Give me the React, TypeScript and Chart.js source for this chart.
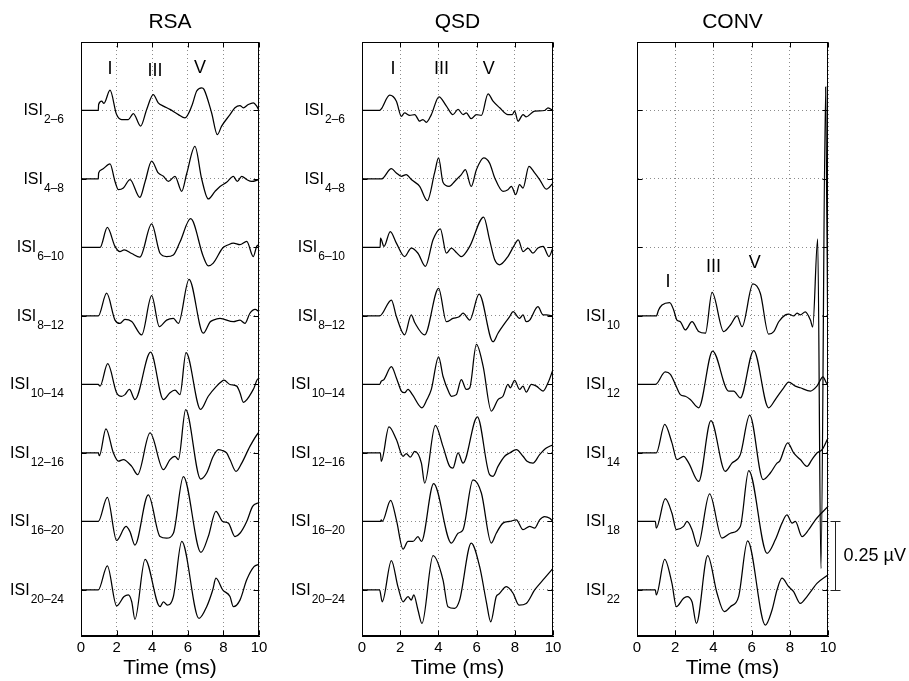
import React, { useEffect, useRef } from "react";
import { Chart, registerables } from "chart.js";
Chart.register(...registerables);
Chart.defaults.font.family = "'Liberation Sans', Arial, Helvetica, sans-serif";

// ---------- axes ----------
const timeTicks = [0, 2, 4, 6, 8, 10];
const baselines = [0, 0.25, 0.5, 0.75, 1.0, 1.25, 1.5, 1.75];
const yMin = -0.168;
const yMax = 2.0;

// ---------- labels ----------
const panelTitles = ["RSA", "QSD", "CONV"];
const rsaSubs = ["2–6", "4–8", "6–10", "8–12", "10–14", "12–16", "16–20", "20–24"];
const qsdSubs = ["2–6", "4–8", "6–10", "8–12", "10–14", "12–16", "16–20", "20–24"];
const convSubs = ["10", "12", "14", "18", "22"];
const rsaOffsets = [1.75, 1.5, 1.25, 1.0, 0.75, 0.5, 0.25, 0];
const qsdOffsets = [1.75, 1.5, 1.25, 1.0, 0.75, 0.5, 0.25, 0];
const convOffsets = [1.0, 0.75, 0.5, 0.25, 0];
const waveNames = ["I", "III", "V"];
const rsaWaveT = [1.63, 4.16, 6.69];
const rsaWaveY = [1.90, 1.895, 1.906];
const qsdWaveT = [1.62, 4.16, 6.63];
const qsdWaveY = [1.90, 1.90, 1.90];
const convWaveT = [1.62, 4.01, 6.16];
const convWaveY = [1.125, 1.18, 1.195];
const scaleBarLow = 0;
const scaleBarHigh = 0.25;
const scaleBarText = "0.25 µV";

// ---------- RSA traces: [time ms, amplitude µV] ----------
const rsa_2_6 = [[0,0],[0.97,0],[0.99,0.022],[1.16,0.034],[1.29,0.026],[1.63,0.074],[2.0,-0.015],[2.28,-0.033],[2.66,-0.033],[2.94,-0.011],[3.35,-0.057],[3.69,0.004],[4.06,0.058],[4.34,0.028],[4.63,0.016],[5.0,0.004],[5.47,-0.015],[5.84,-0.027],[6.22,0.016],[6.5,0.071],[6.78,0.083],[6.91,0.077],[7.34,-0.009],[7.66,-0.088],[7.9,-0.057],[8.37,-0.015],[8.65,0.01],[8.93,0.018],[9.12,0.01],[9.4,0.022],[9.68,0.028],[9.87,0.016],[10,0]];
const rsa_4_8 = [[0,0],[0.97,0],[0.99,0.022],[1.16,0.034],[1.63,0.055],[1.91,-0.009],[2.1,-0.039],[2.38,-0.033],[2.75,-0.002],[3.31,-0.067],[3.6,-0.01],[3.97,0.065],[4.34,0.022],[4.63,0.01],[4.91,-0.009],[5.28,0.01],[5.66,-0.045],[5.94,0.02],[6.4,0.119],[6.78,0.0],[7.15,-0.073],[7.53,-0.045],[7.81,-0.027],[8.18,-0.012],[8.56,0.01],[8.78,-0.009],[9.03,0.01],[9.31,-0.002],[9.59,-0.009],[10,-0.002]];
const rsa_6_10 = [[0,0],[1.07,0],[1.48,0.073],[1.91,0.004],[2.19,-0.015],[2.42,-0.009],[2.85,-0.022],[3.31,-0.035],[3.97,0.086],[4.44,-0.021],[4.81,-0.033],[5.19,-0.027],[5.56,0.02],[6.16,0.105],[6.87,-0.033],[7.15,-0.067],[7.43,-0.057],[7.96,-0.002],[8.28,0.01],[8.56,0.016],[8.93,0.01],[9.31,0.022],[9.68,-0.033],[9.87,0.004],[10,0.01]];
const rsa_8_12 = [[0,0],[0.97,0],[1.44,0.083],[1.91,-0.015],[2.19,-0.027],[2.47,-0.012],[2.85,-0.02],[3.41,-0.069],[3.97,0.074],[4.4,-0.039],[4.81,-0.015],[5.19,-0.009],[5.47,-0.027],[6.07,0.134],[6.87,-0.063],[7.25,-0.022],[7.43,-0.015],[7.81,-0.009],[8.56,-0.021],[8.93,-0.015],[9.21,-0.027],[9.49,0.01],[9.78,0.024],[10,0.016]];
const rsa_10_14 = [[0,0],[0.97,0],[1.07,-0.006],[1.5,0.076],[2.0,-0.03],[2.28,-0.043],[2.47,-0.037],[2.72,-0.018],[3.03,-0.055],[3.91,0.118],[4.63,-0.055],[5.0,-0.03],[5.28,-0.021],[5.56,-0.037],[5.9,0.116],[6.72,-0.091],[7.15,-0.043],[7.62,-0.006],[7.81,0.006],[8.03,0.016],[8.37,0.0],[8.75,-0.006],[8.93,-0.03],[9.12,-0.065],[9.68,-0.018],[9.96,0.021],[10,0.012]];
const rsa_12_16 = [[0,0],[0.97,0],[1.03,-0.01],[1.4,0.088],[1.82,0.0],[2.1,-0.03],[2.38,-0.024],[2.85,-0.049],[3.18,-0.079],[3.88,0.073],[4.63,-0.061],[5.0,-0.024],[5.28,-0.012],[5.47,-0.024],[5.88,0.158],[6.72,-0.095],[7.06,-0.073],[7.43,-0.012],[7.72,0.012],[7.9,0.01],[8.18,0.0],[8.37,-0.024],[8.71,-0.067],[9.03,-0.037],[9.49,0.024],[9.96,0.073],[10,0.075]];
const rsa_16_20 = [[0,0],[0.97,0],[1.48,0.088],[2.0,-0.069],[2.53,-0.018],[2.75,-0.037],[3.03,-0.086],[3.78,0.097],[4.44,-0.055],[4.81,-0.061],[5.19,-0.043],[5.75,0.164],[6.74,-0.113],[7.15,-0.055],[7.58,0.037],[7.96,0.0],[8.28,-0.006],[8.65,-0.055],[8.93,-0.043],[9.31,0.0],[9.64,0.055],[10,0.069]];
const rsa_20_24 = [[0,0],[0.97,0],[1.48,0.088],[2.0,-0.058],[2.42,-0.024],[2.66,-0.018],[2.85,-0.043],[3.03,-0.107],[3.6,0.112],[4.44,-0.061],[4.63,-0.043],[4.85,-0.055],[5.19,-0.024],[5.66,0.177],[6.63,-0.104],[7.06,-0.061],[7.4,0.0],[7.58,0.043],[7.96,0.0],[8.37,-0.024],[8.56,-0.061],[8.93,-0.037],[9.31,0.037],[9.72,0.085],[10,0.094]];

// ---------- QSD traces ----------
const qsd_2_6 = [[0,0],[0.92,0],[1.01,0.006],[1.45,0.056],[1.8,0.034],[2.06,-0.021],[2.23,-0.009],[2.5,-0.018],[2.76,-0.015],[3.02,-0.039],[3.19,-0.033],[3.37,-0.043],[3.63,-0.015],[4.03,0.05],[4.42,0.016],[4.76,-0.015],[5.03,0.004],[5.29,-0.015],[5.46,-0.009],[5.72,-0.03],[5.99,-0.015],[6.25,-0.018],[6.6,0.061],[6.86,0.034],[7.21,0.01],[7.64,-0.015],[7.87,-0.015],[7.99,-0.002],[8.17,-0.039],[8.43,-0.015],[8.6,-0.023],[9.04,-0.002],[9.56,0.0],[9.74,0.01],[10,0.0]];
const qsd_4_8 = [[0,0],[1.01,0],[1.54,0.038],[1.8,0.022],[2.06,0.01],[2.32,0.016],[2.58,-0.002],[3.02,-0.027],[3.42,-0.079],[3.8,0.022],[4.01,0.077],[4.24,-0.012],[4.56,-0.027],[4.85,-0.009],[5.03,0.004],[5.2,0.016],[5.41,0.034],[5.72,-0.027],[5.99,0.034],[6.37,0.077],[6.68,0.058],[6.95,0.004],[7.38,-0.045],[7.64,-0.039],[7.82,-0.027],[8.05,-0.057],[8.25,-0.021],[8.43,-0.033],[8.74,0.046],[9.04,0.022],[9.3,-0.002],[9.65,-0.037],[10,-0.015]];
const qsd_6_10 = [[0,0],[0.95,0],[0.97,0.034],[1.15,0.004],[1.48,0.058],[1.8,0.016],[2.23,-0.033],[2.58,-0.002],[2.93,-0.021],[3.32,-0.069],[3.72,0.028],[4.1,0.068],[4.42,-0.021],[4.68,-0.002],[4.94,-0.018],[5.2,-0.033],[5.64,0.004],[6.37,0.111],[6.68,0.028],[6.95,-0.045],[7.21,-0.063],[7.64,-0.033],[7.94,0.004],[8.18,0.028],[8.43,-0.015],[8.69,-0.002],[8.95,-0.021],[9.21,-0.002],[9.48,0.004],[9.79,-0.033],[10,0.0]];
const qsd_8_12 = [[0,0],[0.92,0],[1.54,0.058],[1.8,-0.002],[2.23,-0.069],[2.58,0.004],[2.76,-0.024],[3.28,-0.069],[4.01,0.101],[4.42,-0.021],[4.76,-0.009],[5.11,-0.002],[5.29,0.01],[5.64,-0.015],[6.13,0.08],[6.86,-0.094],[7.12,-0.063],[7.73,-0.002],[7.91,0.016],[8.25,-0.009],[8.43,0.004],[8.6,-0.021],[8.78,-0.015],[9.21,0.034],[9.48,0.004],[9.65,0.004],[10,0.0]];
const qsd_10_14 = [[0,0],[0.92,0],[1.01,0.012],[1.15,0.018],[1.54,0.065],[1.8,0.024],[2.06,-0.024],[2.23,-0.03],[2.41,-0.018],[2.64,-0.037],[3.14,-0.085],[3.4,-0.055],[3.63,-0.018],[4.01,0.101],[4.24,0.03],[4.56,-0.03],[4.68,-0.043],[4.94,-0.037],[5.2,0.018],[5.46,-0.018],[5.64,-0.012],[5.99,0.146],[6.34,0.067],[6.77,-0.097],[7.12,-0.055],[7.38,-0.043],[7.64,0.0],[7.77,-0.012],[7.99,0.015],[8.25,-0.018],[8.43,-0.006],[8.6,-0.028],[8.87,0.0],[9.13,-0.006],[9.48,-0.024],[9.74,0.006],[10,0.055]];
const qsd_12_16 = [[0,0],[0.96,0],[1.01,-0.03],[1.41,0.095],[1.8,0.049],[2.15,-0.012],[2.32,-0.002],[2.53,-0.015],[2.76,0.006],[3.11,-0.037],[3.28,-0.11],[3.84,0.101],[4.24,0.024],[4.59,-0.049],[4.76,-0.055],[5.03,0.0],[5.29,-0.037],[6.04,0.132],[6.68,-0.079],[6.86,-0.085],[7.12,-0.049],[7.47,-0.012],[7.73,0.0],[8.08,0.012],[8.43,-0.012],[8.64,-0.03],[8.95,-0.037],[9.3,-0.006],[9.65,0.018],[10,0.03]];
const qsd_16_20 = [[0,0],[0.96,0],[1.01,0.006],[1.06,0.0],[1.5,0.077],[1.8,0.006],[2.15,-0.101],[2.41,-0.073],[2.67,-0.073],[2.93,-0.055],[3.11,-0.073],[3.75,0.138],[4.68,-0.079],[5.03,-0.043],[5.29,-0.03],[5.81,0.152],[6.25,0.104],[6.77,-0.079],[7.03,-0.043],[7.38,-0.006],[7.73,0.0],[8.08,0.006],[8.43,-0.03],[8.78,-0.018],[9.04,-0.024],[9.3,0.006],[9.56,0.018],[9.83,0.012],[10,0.0]];
const qsd_20_24 = [[0,0],[0.92,0],[1.06,-0.043],[1.54,0.107],[1.88,0.012],[2.15,-0.043],[2.41,-0.024],[2.58,-0.037],[2.71,-0.018],[2.93,-0.073],[3.14,-0.122],[3.72,0.125],[4.24,0.037],[4.5,-0.061],[4.85,-0.067],[5.11,-0.037],[5.72,0.171],[6.16,0.085],[6.51,-0.043],[6.74,-0.116],[7.03,-0.024],[7.17,-0.015],[7.56,0.012],[7.91,-0.012],[8.22,-0.055],[8.6,-0.049],[9.04,0.0],[9.56,0.043],[10,0.079]];

// ---------- CONV traces ----------
const conv_10 = [[0,0],[1.01,0],[1.13,0.022],[1.31,0.04],[1.71,0.049],[1.92,0.022],[2.09,-0.015],[2.27,-0.021],[2.53,-0.051],[2.88,-0.021],[3.23,-0.057],[3.58,-0.063],[3.93,0.086],[4.54,-0.057],[4.89,-0.033],[5.24,0.0],[5.5,-0.039],[6.07,0.117],[6.46,0.082],[6.89,-0.066],[7.16,-0.057],[7.42,-0.021],[7.77,0.004],[7.94,0.007],[8.2,0.0],[8.38,0.01],[8.55,0.004],[8.81,0.015],[9.08,-0.015],[9.2,-0.04],[9.46,0.281],[9.63,-0.922],[9.88,0.836],[10,-0.23]];
const conv_12 = [[0,0],[0.96,0],[1.48,0.046],[1.75,0.037],[2.01,0.0],[2.27,-0.037],[2.53,-0.043],[2.79,-0.055],[3.23,-0.085],[3.96,0.122],[4.8,-0.024],[5.06,-0.024],[5.41,-0.049],[6.11,0.124],[6.89,-0.085],[7.24,-0.055],[7.68,-0.012],[7.94,0.009],[8.29,-0.006],[8.55,-0.012],[9.08,-0.024],[9.42,-0.006],[9.74,0.028],[9.91,0.006],[10,0.0]];
const conv_14 = [[0,0],[1.01,0],[1.45,0.104],[1.83,0.037],[2.09,-0.024],[2.44,-0.012],[2.71,-0.037],[3.23,-0.104],[3.87,0.118],[4.62,-0.067],[4.97,-0.037],[5.41,-0.006],[5.9,0.138],[6.6,-0.097],[6.98,-0.073],[7.33,-0.037],[7.47,-0.03],[7.89,0.037],[8.2,0.0],[8.55,-0.024],[8.9,-0.049],[9.16,-0.024],[9.42,0.0],[9.69,0.012],[10,0.055]];
const conv_18 = [[0,0],[0.96,0],[1.01,-0.024],[1.48,0.083],[1.83,0.03],[2.06,-0.03],[2.44,-0.018],[2.62,0.0],[2.88,-0.03],[3.18,-0.091],[3.8,0.101],[4.45,-0.061],[4.89,-0.043],[5.41,-0.018],[5.85,0.186],[6.81,-0.116],[7.24,-0.067],[7.59,-0.006],[7.85,0.024],[8.12,-0.006],[8.29,0.0],[8.64,-0.055],[8.99,-0.03],[9.34,0.006],[10,0.055]];
const conv_22 = [[0,0],[0.96,0],[1.01,-0.018],[1.45,0.112],[1.83,0.024],[2.06,-0.061],[2.44,-0.03],[2.62,-0.024],[2.88,-0.043],[3.11,-0.122],[3.7,0.125],[4.19,-0.012],[4.57,-0.079],[4.89,-0.061],[5.32,-0.024],[5.79,0.179],[6.72,-0.128],[7.07,-0.073],[7.33,0.0],[7.59,0.043],[7.94,0.012],[8.2,-0.006],[8.55,-0.049],[8.9,-0.024],[9.16,0.0],[9.42,0.024],[10,0.055]];

const rsaTraces = [rsa_2_6, rsa_4_8, rsa_6_10, rsa_8_12, rsa_10_14, rsa_12_16, rsa_16_20, rsa_20_24];
const qsdTraces = [qsd_2_6, qsd_4_8, qsd_6_10, qsd_8_12, qsd_10_14, qsd_12_16, qsd_16_20, qsd_20_24];
const convTraces = [conv_10, conv_12, conv_14, conv_18, conv_22];

type PanelCfg = {
  title: string; left: number; width: number; padL: number; padR: number;
  traces: number[][][]; offsets: number[]; subs: string[];
  waveT: number[]; waveY: number[]; scaleBar: boolean;
};

const panels: PanelCfg[] = [
  { title: panelTitles[0], left: 0, width: 300, padL: 81, padR: 41, traces: rsaTraces, offsets: rsaOffsets, subs: rsaSubs, waveT: rsaWaveT, waveY: rsaWaveY, scaleBar: false },
  { title: panelTitles[1], left: 270, width: 310, padL: 92, padR: 27, traces: qsdTraces, offsets: qsdOffsets, subs: qsdSubs, waveT: qsdWaveT, waveY: qsdWaveY, scaleBar: false },
  { title: panelTitles[2], left: 560, width: 349, padL: 77, padR: 81, traces: convTraces, offsets: convOffsets, subs: convSubs, waveT: convWaveT, waveY: convWaveY, scaleBar: true },
];

const FONT = "'Liberation Sans', Arial, Helvetica, sans-serif";

function makeDecor(cfg: PanelCfg) {
  return {
    id: "decor",
    afterDraw(chart: any) {
      const ctx = chart.ctx as CanvasRenderingContext2D;
      const a = chart.chartArea;
      const xs = chart.scales.x;
      const ys = chart.scales.y;
      ctx.save();
      ctx.strokeStyle = "#000";
      ctx.lineWidth = 1;
      const L = Math.round(a.left) + 0.5, R = Math.round(a.right) - 0.5;
      const T = Math.round(a.top) + 0.5, B = Math.round(a.bottom) - 0.5;
      ctx.strokeRect(L, T, R - L, B - T);
      ctx.beginPath();
      for (const v of timeTicks) {
        const px = Math.round(xs.getPixelForValue(v)) + 0.5;
        ctx.moveTo(px, B); ctx.lineTo(px, B - 5);
        ctx.moveTo(px, T); ctx.lineTo(px, T + 5);
      }
      for (const v of baselines) {
        const py = Math.round(ys.getPixelForValue(v)) + 0.5;
        ctx.moveTo(L, py); ctx.lineTo(L + 5, py);
        ctx.moveTo(R, py); ctx.lineTo(R - 5, py);
      }
      ctx.stroke();

      // ISI labels
      ctx.fillStyle = "#000";
      ctx.textBaseline = "alphabetic";
      cfg.subs.forEach((sub, i) => {
        const py = ys.getPixelForValue(cfg.offsets[i]);
        ctx.font = `16px ${FONT}`;
        const w1 = ctx.measureText("ISI").width;
        ctx.font = `12px ${FONT}`;
        const w2 = ctx.measureText(sub).width;
        const x0 = a.left - 17 - (w1 + 1 + w2);
        ctx.font = `16px ${FONT}`;
        ctx.textAlign = "left";
        ctx.fillText("ISI", x0, py + 5);
        ctx.font = `12px ${FONT}`;
        ctx.fillText(sub, x0 + w1 + 1, py + 13);
      });

      // wave labels
      ctx.font = `18px ${FONT}`;
      ctx.textAlign = "center";
      ctx.textBaseline = "middle";
      waveNames.forEach((n, i) => {
        ctx.fillText(n, xs.getPixelForValue(cfg.waveT[i]), ys.getPixelForValue(cfg.waveY[i]));
      });

      // scale bar
      if (cfg.scaleBar) {
        const y1 = Math.round(ys.getPixelForValue(scaleBarHigh)) + 0.5;
        const y0 = Math.round(ys.getPixelForValue(scaleBarLow)) + 0.5;
        const bx = Math.round(a.right) + 7.5;
        ctx.strokeStyle = "#222";
        ctx.beginPath();
        ctx.moveTo(bx, y1); ctx.lineTo(bx, y0);
        ctx.moveTo(bx - 5, y1); ctx.lineTo(bx + 5, y1);
        ctx.moveTo(bx - 5, y0); ctx.lineTo(bx + 5, y0);
        ctx.stroke();
        ctx.textAlign = "left";
        ctx.textBaseline = "middle";
        ctx.fillText(scaleBarText, bx + 8, (y0 + y1) / 2);
      }
      ctx.restore();
    },
  };
}

function Panel({ cfg }: { cfg: PanelCfg }) {
  const ref = useRef<HTMLCanvasElement | null>(null);
  useEffect(() => {
    if (!ref.current) return;
    const gridCommon = { color: "#8c8c8c", lineWidth: 1, drawTicks: false };
    const chart = new Chart(ref.current, {
      type: "line",
      data: {
        datasets: cfg.traces.map((tr, i) => ({
          data: tr.map(([t, v]) => ({ x: t, y: v + cfg.offsets[i] })),
          borderColor: "#000",
          borderWidth: 1.25,
          pointRadius: 0,
          fill: false,
          cubicInterpolationMode: "monotone" as const,
        })),
      },
      options: {
        animation: false,
        responsive: false,
        devicePixelRatio: 1,
        layout: { padding: { left: cfg.padL, right: cfg.padR, top: 0, bottom: 0 } },
        plugins: {
          legend: { display: false },
          tooltip: { enabled: false },
          title: {
            display: true,
            text: cfg.title,
            color: "#000",
            font: { size: 21, weight: "normal" as const },
            padding: { top: 10, bottom: 6.8 },
          },
        },
        scales: {
          x: {
            type: "linear",
            min: 0,
            max: 10,
            afterBuildTicks: (s: any) => { s.ticks = timeTicks.map((v) => ({ value: v })); },
            afterFit: (s: any) => { s.height = 45; },
            grid: gridCommon,
            border: { display: true, color: "#000", width: 1, dash: [1, 3] },
            ticks: { color: "#000", font: { size: 15 }, padding: 3, maxRotation: 0, autoSkip: false },
            title: { display: true, text: "Time (ms)", color: "#000", font: { size: 21 }, padding: { top: 0, bottom: 0 } },
          },
          y: {
            type: "linear",
            min: yMin,
            max: yMax,
            afterBuildTicks: (s: any) => { s.ticks = baselines.map((v) => ({ value: v })); },
            afterFit: (s: any) => { s.width = 0; },
            grid: gridCommon,
            border: { display: true, color: "#000", width: 1, dash: [1, 3] },
            ticks: { display: false },
          },
        },
      },
      plugins: [makeDecor(cfg)],
    } as any);
    return () => chart.destroy();
  }, [cfg]);
  return (
    <canvas
      ref={ref}
      width={cfg.width}
      height={681}
      style={{ position: "absolute", left: cfg.left, top: 0, width: cfg.width, height: 681 }}
    />
  );
}

export default function App() {
  return (
    <div style={{ position: "absolute", left: 0, top: 0, width: 909, height: 681, background: "#fff", overflow: "hidden" }}>
      {panels.map((p) => (
        <Panel key={p.title} cfg={p} />
      ))}
    </div>
  );
}
